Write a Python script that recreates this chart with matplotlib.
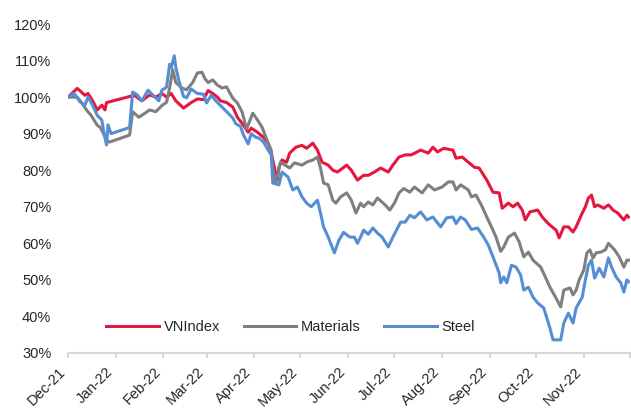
import matplotlib
matplotlib.use("Agg")
import matplotlib.pyplot as plt
import pandas as pd

plt.rcParams["font.family"] = ["Liberation Sans Narrow", "Liberation Sans", "DejaVu Sans"]

# values (% of 1 Dec 2021 level)
vn_dates = ["2021-12-01", "2021-12-07", "2021-12-12", "2021-12-14", "2021-12-17", "2021-12-20",
            "2021-12-23", "2021-12-25", "2021-12-26", "2022-01-13", "2022-01-18", "2022-01-23",
            "2022-01-27", "2022-01-31", "2022-02-03", "2022-02-06", "2022-02-09", "2022-02-14",
            "2022-02-19", "2022-02-23", "2022-02-27", "2022-03-02", "2022-03-05", "2022-03-08",
            "2022-03-10", "2022-03-14", "2022-03-18", "2022-03-21", "2022-03-25", "2022-03-28",
            "2022-03-30", "2022-04-03", "2022-04-07", "2022-04-10", "2022-04-12", "2022-04-14",
            "2022-04-16", "2022-04-17", "2022-04-19", "2022-04-22", "2022-04-24", "2022-04-28",
            "2022-05-02", "2022-05-05", "2022-05-09", "2022-05-12", "2022-05-15", "2022-05-19",
            "2022-05-22", "2022-05-25", "2022-05-31", "2022-06-03", "2022-06-07", "2022-06-11",
            "2022-06-14", "2022-06-18", "2022-06-22", "2022-06-27", "2022-06-30", "2022-07-04",
            "2022-07-08", "2022-07-12", "2022-07-18", "2022-07-23", "2022-07-26", "2022-07-29",
            "2022-08-02", "2022-08-08", "2022-08-10", "2022-08-14", "2022-08-18", "2022-08-22",
            "2022-08-25", "2022-08-30", "2022-09-03", "2022-09-07", "2022-09-09", "2022-09-13",
            "2022-09-16", "2022-09-19", "2022-09-22", "2022-09-24", "2022-09-27", "2022-10-02",
            "2022-10-05", "2022-10-08", "2022-10-10", "2022-10-14", "2022-10-16", "2022-10-19",
            "2022-10-22", "2022-10-25", "2022-10-27", "2022-10-31", "2022-11-02", "2022-11-04",
            "2022-11-06", "2022-11-08", "2022-11-10", "2022-11-14", "2022-11-17", "2022-11-20",
            "2022-11-23", "2022-11-27", "2022-11-29", "2022-11-30"]
vn_values = [100.0, 102.4, 100.5, 101.0, 99.0, 96.5,
             97.8, 96.5, 98.5, 100.5, 99.0, 100.6,
             100.0, 101.0, 100.0, 101.0, 99.0, 97.0,
             98.5, 99.5, 99.3, 101.8, 101.0, 100.0,
             99.0, 98.5, 97.3, 94.5, 92.3, 90.4,
             91.5, 90.4, 89.0, 87.4, 84.7, 80.8,
             77.3, 80.8, 82.8, 82.2, 84.7, 86.3,
             86.8, 86.0, 87.4, 85.5, 82.2, 81.4,
             80.0, 79.5, 81.4, 80.0, 77.3, 78.6,
             78.6, 79.5, 80.6, 79.5, 81.4, 83.6,
             84.2, 84.2, 85.5, 84.7, 86.3, 85.0,
             86.0, 85.5, 83.3, 83.6, 82.2, 80.8,
             80.6, 77.3, 74.0, 73.8, 69.6, 71.0,
             70.0, 71.0, 69.1, 66.4, 68.6, 69.1,
             67.2, 65.8, 65.0, 63.6, 61.5, 64.5,
             64.5, 63.1, 64.5, 68.3, 70.0, 72.4,
             73.2, 70.0, 70.5, 69.6, 70.5, 69.1,
             68.3, 66.4, 67.7, 67.2]

mat_dates = ["2021-12-01", "2021-12-07", "2021-12-10", "2021-12-13", "2021-12-16", "2021-12-20",
             "2021-12-22", "2021-12-24", "2021-12-26", "2021-12-28", "2022-01-10", "2022-01-12",
             "2022-01-16", "2022-01-20", "2022-01-23", "2022-01-27", "2022-01-31", "2022-02-03",
             "2022-02-05", "2022-02-07", "2022-02-09", "2022-02-13", "2022-02-16", "2022-02-20",
             "2022-02-23", "2022-02-26", "2022-02-28", "2022-03-02", "2022-03-05", "2022-03-08",
             "2022-03-11", "2022-03-14", "2022-03-18", "2022-03-21", "2022-03-24", "2022-03-27",
             "2022-03-31", "2022-04-03", "2022-04-06", "2022-04-10", "2022-04-12", "2022-04-13",
             "2022-04-15", "2022-04-18", "2022-04-21", "2022-04-24", "2022-04-27", "2022-05-02",
             "2022-05-05", "2022-05-09", "2022-05-12", "2022-05-14", "2022-05-16", "2022-05-19",
             "2022-05-22", "2022-05-24", "2022-05-27", "2022-05-31", "2022-06-03", "2022-06-06",
             "2022-06-09", "2022-06-11", "2022-06-14", "2022-06-17", "2022-06-20", "2022-06-25",
             "2022-06-28", "2022-07-01", "2022-07-04", "2022-07-07", "2022-07-11", "2022-07-14",
             "2022-07-19", "2022-07-23", "2022-07-27", "2022-08-01", "2022-08-05", "2022-08-08",
             "2022-08-10", "2022-08-13", "2022-08-18", "2022-08-20", "2022-08-23", "2022-08-27",
             "2022-08-30", "2022-09-02", "2022-09-05", "2022-09-08", "2022-09-10", "2022-09-13",
             "2022-09-17", "2022-09-20", "2022-09-23", "2022-09-26", "2022-09-29", "2022-10-04",
             "2022-10-07", "2022-10-10", "2022-10-14", "2022-10-17", "2022-10-19", "2022-10-23",
             "2022-10-25", "2022-10-27", "2022-10-29", "2022-11-01", "2022-11-03", "2022-11-05",
             "2022-11-07", "2022-11-09", "2022-11-12", "2022-11-15", "2022-11-17", "2022-11-21",
             "2022-11-24", "2022-11-27", "2022-11-29", "2022-11-30"]
mat_values = [100.0, 100.0, 98.4, 96.5, 95.0, 92.3,
              91.7, 90.0, 88.3, 87.7, 89.6, 96.0,
              94.5, 95.6, 96.5, 96.0, 97.7, 98.6,
              102.5, 107.5, 104.0, 102.5, 102.0, 104.0,
              106.6, 106.8, 105.0, 104.0, 104.7, 103.3,
              102.5, 102.8, 99.7, 98.4, 96.0, 91.3,
              95.6, 93.8, 91.8, 87.4, 85.5, 80.6,
              76.5, 82.2, 81.4, 80.6, 82.0, 81.4,
              82.2, 82.8, 83.6, 80.6, 76.5, 76.0,
              71.8, 71.0, 72.7, 73.8, 71.8, 68.3,
              71.0, 70.0, 71.3, 70.5, 72.4, 70.5,
              69.1, 71.0, 73.8, 75.0, 74.0, 75.4,
              73.8, 76.0, 74.6, 75.4, 76.8, 76.8,
              74.6, 76.0, 74.6, 72.7, 73.2, 70.0,
              67.2, 64.5, 61.7, 57.8, 59.0, 61.7,
              62.8, 60.4, 56.3, 57.6, 55.4, 53.5,
              50.8, 48.0, 45.0, 42.6, 47.2, 47.8,
              45.9, 47.2, 50.0, 52.7, 57.4, 58.2,
              56.0, 57.4, 57.6, 58.2, 60.0, 58.2,
              56.3, 53.5, 55.4, 55.4]

steel_dates = ["2021-12-01", "2021-12-05", "2021-12-09", "2021-12-12", "2021-12-14", "2021-12-17",
               "2021-12-20", "2021-12-23", "2021-12-24", "2021-12-26", "2021-12-27", "2021-12-29",
               "2022-01-10", "2022-01-12", "2022-01-15", "2022-01-18", "2022-01-22", "2022-01-25",
               "2022-01-29", "2022-01-31", "2022-02-03", "2022-02-05", "2022-02-06", "2022-02-08",
               "2022-02-09", "2022-02-11", "2022-02-14", "2022-02-16", "2022-02-19", "2022-02-23",
               "2022-02-27", "2022-03-01", "2022-03-04", "2022-03-07", "2022-03-11", "2022-03-15",
               "2022-03-18", "2022-03-20", "2022-03-23", "2022-03-25", "2022-03-28", "2022-03-30",
               "2022-04-02", "2022-04-04", "2022-04-07", "2022-04-10", "2022-04-12", "2022-04-13",
               "2022-04-17", "2022-04-19", "2022-04-23", "2022-04-26", "2022-04-29", "2022-05-02",
               "2022-05-05", "2022-05-08", "2022-05-12", "2022-05-14", "2022-05-16", "2022-05-19",
               "2022-05-23", "2022-05-26", "2022-05-29", "2022-06-02", "2022-06-05", "2022-06-07",
               "2022-06-09", "2022-06-11", "2022-06-14", "2022-06-17", "2022-06-20", "2022-06-23",
               "2022-06-27", "2022-06-30", "2022-07-05", "2022-07-08", "2022-07-11", "2022-07-14",
               "2022-07-18", "2022-07-22", "2022-07-26", "2022-07-31", "2022-08-04", "2022-08-08",
               "2022-08-10", "2022-08-13", "2022-08-16", "2022-08-20", "2022-08-24", "2022-08-28",
               "2022-08-31", "2022-09-03", "2022-09-07", "2022-09-08", "2022-09-10", "2022-09-12",
               "2022-09-15", "2022-09-18", "2022-09-21", "2022-09-23", "2022-09-26", "2022-09-29",
               "2022-10-02", "2022-10-06", "2022-10-07", "2022-10-09", "2022-10-10", "2022-10-12",
               "2022-10-17", "2022-10-19", "2022-10-22", "2022-10-25", "2022-10-27", "2022-10-31",
               "2022-11-02", "2022-11-04", "2022-11-06", "2022-11-08", "2022-11-11", "2022-11-14",
               "2022-11-17", "2022-11-19", "2022-11-22", "2022-11-25", "2022-11-27", "2022-11-29",
               "2022-11-30"]
steel_values = [100.0, 101.0, 98.6, 97.8, 100.0, 97.8,
                95.0, 93.7, 91.0, 86.9, 92.4, 90.0,
                91.7, 101.4, 100.6, 99.0, 101.9, 100.6,
                99.0, 101.9, 102.7, 109.0, 108.0, 111.3,
                108.2, 104.5, 100.2, 99.8, 102.2, 101.0,
                100.8, 98.4, 100.5, 99.0, 97.3, 95.6,
                94.3, 92.7, 92.0, 89.6, 87.2, 90.0,
                89.0, 88.8, 87.7, 85.5, 84.2, 76.5,
                76.0, 79.5, 78.1, 74.6, 75.4, 72.7,
                71.0, 70.0, 71.8, 68.3, 64.5, 61.7,
                57.4, 60.9, 63.0, 61.7, 61.7, 60.0,
                61.7, 63.6, 62.5, 64.2, 62.8, 61.7,
                59.0, 61.7, 65.8, 65.8, 67.7, 67.0,
                68.6, 66.4, 67.2, 64.5, 67.0, 67.2,
                65.4, 67.2, 66.4, 63.8, 64.2, 61.7,
                59.5, 56.3, 51.9, 49.2, 50.8, 49.2,
                54.0, 53.5, 51.3, 47.2, 48.0, 45.3,
                43.7, 42.3, 40.9, 38.2, 36.8, 33.6,
                33.6, 38.2, 40.9, 38.2, 42.3, 45.3,
                50.0, 54.0, 55.4, 50.5, 53.2, 50.8,
                56.0, 53.5, 50.8, 49.2, 46.7, 50.0,
                49.5]

series_names = ["VNIndex", "Materials", "Steel"]
colors = ["#E4173E", "#7F7F7F", "#558ED5"]

fig = plt.figure(figsize=(6.31, 4.08), dpi=100)
ax = fig.add_axes([68 / 631, 1 - 353 / 408, 562 / 631, 329 / 408])

for name, d, v, c in zip(series_names,
                         [vn_dates, mat_dates, steel_dates],
                         [vn_values, mat_values, steel_values], colors):
    ax.plot(pd.to_datetime(d), v, color=c, lw=2.2, label=name, solid_joinstyle="round")

ax.set_ylim(30, 120)
ax.set_yticks(range(30, 121, 10))
ax.set_yticklabels([f"{t}%" for t in range(30, 121, 10)])

ticks = pd.date_range("2021-12-01", "2022-12-01", freq="MS")
ax.set_xlim(ticks[0], ticks[-1])
ax.set_xticks(ticks)
ax.set_xticklabels([t.strftime("%b-%y") for t in ticks[:-1]] + [""], rotation=45, ha="right")

for s in ["top", "right", "left"]:
    ax.spines[s].set_visible(False)
ax.spines["bottom"].set_color("#D9D9D9")
ax.spines["bottom"].set_linewidth(1.5)
ax.tick_params(axis="y", length=0, pad=12, labelsize=10.5, labelcolor="#262626")
ax.tick_params(axis="x", length=3.5, width=1.5, color="#D9D9D9", pad=5,
               labelsize=10.5, labelcolor="#262626")

ax.legend(loc="center left", bbox_to_anchor=(0.068, 0.08), ncol=3, frameon=False,
          fontsize=10.5, handlelength=3.6, handletextpad=0.35, columnspacing=1.6,
          borderaxespad=0, borderpad=0, labelcolor="#262626")

fig.savefig("out.png", dpi=100)
